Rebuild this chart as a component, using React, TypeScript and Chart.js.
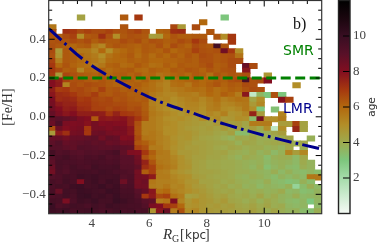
import React, { useEffect, useRef } from "react";
import { Chart, registerables } from "chart.js";

Chart.register(...registerables);

const _ = null;

const xMin = 2.5;
const xMax = 12;
const yMin = -0.5;
const yMax = 0.6;
const binW = 0.25;
const binH = 0.025;
const gridTop = 0.525;

const ages: (number | null)[][] = [
  [_,_,_,_,4.3,_,_,_,_,_,6.3,_,7.0,_,_,_,_,_,_,_,_,_,_,_,3.0],
  [_,_,_,_,_,_,_,_,_,_,_,_,_,_,_,_,_,_,_,_,_,6],
  [5.6,_,_,_,_,_,_,_,_,_,6.4,_,_,_,_,_,_,6.7,4.6,_,6.6],
  [6.5,_,7.2,7,6.6,6.8,6.6,6.6,6.8,6.5,6.4,6.6,6.8,6.4,_,6.1,6.2,7.2,7.3,_,_,_,6.4],
  [6.4,6.2,6.6,6.8,5,6.3,6.4,7.2,6.5,5,6.3,6.5,6.4,6.3,4.4,4.6,6,6.4,6.2,6.2,6.3,6.3,_,6.4,5,7],
  [6.4,6.5,6.4,6.6,6.4,6.6,6.2,6.5,6.3,6.3,6.6,6.4,6.6,6.2,6.5,6.4,6.2,6.3,6.6,6.4,7,6.6,_,_,_,7],
  [6.5,6.3,6.2,6.0,6.2,6.3,5.6,5.2,6.2,6.4,6.3,6.2,6.1,6.3,6.2,6.5,6.1,6.6,6.3,6.1,6.6,6.4,6.3,9.6,6.4],
  [6.6,4.6,6.3,6,5.6,5.6,5.2,6,5,5.8,6,6.2,6,6.3,6.2,6.1,6.4,6,6.2,6.3,6.8,6.5,6.4,6.5,8.4,7,5],
  [6.5,4.8,6.3,6.2,6,5.7,5.5,5,5.7,6,6.1,6.3,5.9,6.2,5.9,6.2,6,6.3,6.1,6.4,6.2,6.6,6.5,6.3,6.4,6.5,5.7],
  [6.8,5.4,6.3,6.2,6,5.8,5.6,5.3,5.9,6,6,6.2,6.1,6.2,6,6,6.1,6.1,6.2,6.3,6.2,6.5,6.5,6.3,6.4,6.6,6.6],
  [7,6,6.4,6.1,5.9,5.8,5.4,5.6,6.1,6.2,5.9,6,6.3,6.1,5.8,5.9,6.2,6,6.3,6.2,6.2,6.4,6.6,6.2,6.3,6.6,_,8.6,6.6],
  [7,6.6,6.2,6.3,5.2,6,5.9,6.2,5.9,6.1,6.2,6.3,6.0,5.9,6.2,6.1,6,6.3,6.2,6.4,6.3,6.1,6.4,6.2,6.4,6.5,_,7.8],
  [6.9,4.6,6.7,6.5,6.3,6.2,6.1,6.3,6,6.2,6.3,6.1,6.3,6,6.1,5.7,5.9,6.1,6.2,6,6.3,6.2,5.8,6.4,6.2,6.4,6.3,6.5,_,_,4.7],
  [8,7.6,6.8,6.5,6.5,6.3,6.2,6.4,6.2,6.1,6.3,6.2,6.0,6.2,5.9,5.7,5.4,5.9,6,6.1,6.2,6,6.1,6.3,6.2,6.5,6.6,9.4,6.5,6.6,8],
  [8,7.7,5.3,6.6,6.4,6.6,6.5,6.4,6.2,6.1,6,6.1,6.2,6,5.8,5.5,5.3,5.8,5.9,5.6,6.1,6,6.2,6.4,6.1,6.3,6.2,6.6,6.5,_,_,_,_,_,5],
  [7.6,6.9,7,6.6,6.7,6.5,6.3,6.8,6.3,6.4,6.2,6.3,6.1,5.9,5.8,5.6,5.3,5.5,5.6,5.8,5.9,5.8,6.1,5.8,6,6.2,6.1,6.4,6.6,6.5],
  [7.8,7.3,7.2,7,6.7,6.6,6.9,6.4,6.3,6.5,6.4,6.2,6.2,6,5.6,5.4,5.2,5.2,5.5,5.5,5.4,5.7,6,5.8,6.2,6,5.5,7.8,1.3,3.6,3,6.5,3],
  [8.2,7.3,7.4,7.3,6.9,7,6.7,6.6,6.7,6.4,6.5,6.3,6.2,6.3,5.4,5.2,5.3,5,5.2,5.4,5.5,5.2,5.5,5.8,5.4,5.6,5.8,5.7,4.2,5,_,_,7.9,6.8],
  [8.3,7.7,7.5,7.5,7.1,7.1,6.8,6.7,6.7,6.6,6.6,6.4,6.4,6.2,5.4,5.2,5.1,4.9,5.1,5.3,5.3,5.1,5.4,5.6,5.2,5.3,5.5,5.6,4.6,5.2],
  [8.4,8,7.6,7.7,7.3,7.2,6.8,6.8,6.6,6.8,6.7,6.5,6.6,6.2,5.5,5.2,5,4.8,5,5.2,5.2,5,5.4,5.5,5.1,5,5.2,5.6,5,3.0,_,3.2],
  [8.7,8.2,7.8,8,7.6,7.6,7.7,7.6,7.0,7.5,7,6.9,6.7,6.3,5.6,5.4,5.2,5,4.8,5,5,4.9,5.2,5,5.4,4.8,4.9,5.2,7.5,4.5,_,_,5.3],
  [8.8,9,8.8,8.6,8.2,8,6.3,7.8,7.7,7.8,7.9,7.5,7,6.4,5.5,5.3,5,4.9,5,4.8,4.6,5,4.8,5.1,4.6,4.7,5,4.9,3.4,8.3,5,5,5.5],
  [8.6,9.3,8.2,8.1,8.2,7.9,8.3,8,8.1,8,8,7.5,6.5,5.5,5.5,5.3,5.1,5,4.8,4.7,4.6,4.5,4.4,4.6,4.8,4.4,4.5,4.2,5.5,5.5,5.5,_,4.5,4.5,6.8,4.3],
  [6.5,8.5,8,8.2,8.3,7,8.3,8.3,8.1,8.3,8.2,7.8,6.4,5.5,5.5,5.3,5,5,4.8,4.6,4.5,4.4,4.5,4.3,4.6,4.2,4.4,4.1,4.5,4,5,1.4,5,_,7.4,4.3],
  [4.5,7.7,7.2,8.3,8.4,7,8.5,8.6,8.3,8.2,8.2,7.8,6.4,5.5,5.6,5.4,5,5,4.8,4.8,4.6,4.4,4.4,4.2,4.1,4.4,3.4,3.4,4,3.8,3.9,4.2,4.5],
  [8.7,8.7,8.4,8.7,8.7,8.8,8.9,8.4,8.8,8.7,8,8.1,6.6,5.7,5.6,5.4,5.2,4.9,4.7,4.8,4.5,4.3,4.2,4.1,3.9,3.7,4.1,4.0,4.2,3.9,3.9,3.9,4.0,4.2,_,_,3.8],
  [8.9,9.2,8.7,8.8,8.9,9,8.8,8.9,8.6,8.7,8.4,8.4,6.4,6.2,5.8,5.4,5.2,5,4.7,4.6,4.4,4.4,4.3,4.2,4.2,4.1,3.8,4.2,4.1,3.9,4,4.1,4.1,4.2,3.9,4.1],
  [9.1,9.1,8.9,8.8,9.2,9.1,9,8.9,8.9,9,8.9,8.8,6.8,6.5,5.5,5.5,5.2,4.9,4.7,4.5,4.5,4.4,4.3,4.1,4,4.2,4.1,3.9,4,4,3.8,3.9,3.7,4.1,_,3.9],
  [9.6,9.2,9.3,9.1,9,9.2,9.1,9.2,9.3,9.5,8.8,8.1,8,7,6.2,5.6,5.5,5,4.6,4.6,4.5,4.4,4.3,4.2,4.3,4,3.9,3.8,4,3.7,3.9,3.5,3.8,5.3,4.5,5.2],
  [9.1,9.4,9.6,9.3,9.2,9.4,9.3,9.5,9.2,9.3,9,9,8.4,6.5,6,5.5,5.5,5.2,4.9,4.6,4.4,4.4,4.2,4.2,4.1,3.9,3.7,4,3.9,3.8,3.4,3.8,3.9,3.9,3.5,4.1],
  [8.9,9.5,9.4,9.4,9.3,9.4,9.5,9.4,9.3,9.4,9,9,8.5,7.5,6.4,5.6,5.5,5.3,4.9,4.7,4.4,4.3,4.1,4.1,4,4,3.9,3.8,3.7,3.8,3.5,3.7,3.8,3.7,3.5,4,3.7],
  [8.6,9.5,9.3,9.6,9.4,9.3,9.7,9.5,9.5,9.6,9.1,9.1,8.8,7.2,6.8,5.8,5.6,5.4,4.9,4.8,4.4,4.3,4.1,4.1,4,4,3.9,3.8,3.6,3.9,3.3,3.6,3.8,3.5,3.4,3.9,3.7],
  [8.4,9.4,9.2,9.5,9.6,9.6,9.5,9.7,9.6,9.4,9.3,9.2,8.3,6.2,6.8,5.5,5.4,5,4.8,4.6,4.4,4.3,4.3,4.2,4.1,4,3.9,3.9,3.8,3.7,3.6,3.9,3.5,3.8,3.5,3.4,3.6,3.4],
  [9.2,9.3,9.6,9.5,9.8,9.7,9.8,9.6,9.6,9.7,9.2,9.3,8.4,8.3,7.7,5.5,5.5,5.2,5,4.9,4.5,4.4,4.2,4.1,4.1,4,3.8,3.7,3.9,3.8,3.6,3.4,3.7,3.5,3.7,3.5,5.6,5.6],
  [9.5,9.3,9.7,9.5,8,9.6,9.8,9.5,9.8,9.7,8.5,9.3,8.3,8.5,5.6,5.4,5.4,5.3,5.1,4.8,4.7,4.3,4.3,4.2,4,4.1,3.9,3.8,3.7,3.6,3.9,3.5,3.4,3.2,3.3,3.8,3.4],
  [9.4,9.6,9.5,9.8,9.9,9.6,9.7,9.9,9.6,9.8,9.3,9.4,8.4,8.4,5.5,5.4,5.6,5.2,5.3,4.9,4.6,4.5,4.3,4.1,4.2,3.9,4,3.7,3.8,3.5,3.7,3.6,3.5,3.8,2.4,3.4,3.9,3.5],
  [9.5,8.6,9.7,9.6,9.9,9.8,9.7,9.6,9.9,9.8,9.5,9.5,9,8.7,7.8,5.8,6,5.4,5.2,5,4.8,4.6,4.4,4.2,4.1,4.2,3.9,4,3.8,3.9,3.7,3.8,4,3.5,3.6,3.3,3.4,3.7],
  [9.3,9.4,9.7,9.5,9.9,10,9.7,9.8,9.6,9.9,9.6,9.6,9.2,7,7.7,6.6,6.8,5.8,5.5,4.4,4.5,4.7,4.5,4.3,4.4,4.1,4,4.1,3.9,4.2,3.8,4,3.7,3.6,3.9,3.5,3.6,3.7],
  [9.6,9.5,8.2,9.4,9.8,9.7,9.9,9.6,9.6,10,9.8,9.6,9.4,9,8.8,5.5,5.7,8.1,5.3,4.7,5,4.7,4.6,4.4,4.6,4.2,4.1,3.9,4.1,3.8,4.1,3.9,3.7,3.5,3.4,3.6,3,3.6],
  [9.9,9.3,9.5,9.7,9.6,9.4,9.7,9.5,9.8,9.7,9.6,9.5,9.5,9.2,8.2,8,7,6.8,6,4.8,4.9,4.7,4.5,4.6,4.4,4.5,4.2,4.1,4.3,4,4.2,3.9,4,3.6,3.5,3.6,_,3.5],
  [9.8,9.7,9.8,9.5,9.6,9.7,9.6,9.4,9.5,9.7,9.5,9.6,9.4,9.5,4.8,7.8,8.6,5.5,6.5,5,5.2,4.7,4.6,4.5,4.5,4.4,4.3,4.2,4.4,4.1,3.9,4.2,3.9,3.7,3.8,3.4,3.3,3.9],
];

const smrX = [2.5, 12];
const smrY = [0.2, 0.2];
const lmrX = [2.5, 3.87, 5.43, 6.48, 7.52, 8.63, 10.37, 11.87, 12];
const lmrY = [0.455, 0.277, 0.143, 0.071, 0.019, -0.038, -0.11, -0.162, -0.166];

const xTickValues = [4, 6, 8, 10];
const xMinorTicks = [3, 3.5, 4.5, 5, 5.5, 6.5, 7, 7.5, 8.5, 9, 9.5, 10.5, 11, 11.5];
const yTickValues = [-0.4, -0.2, 0, 0.2, 0.4];
const yMinorTicks = [-0.45, -0.35, -0.3, -0.25, -0.15, -0.1, -0.05, 0.05, 0.1, 0.15, 0.25, 0.3, 0.35, 0.45, 0.5, 0.55];
const cbarTicks = [2, 4, 6, 8, 10];
const cbarRange = [0, 12];

const cmapValues = [0, 1, 2, 3, 4, 5, 6, 7, 8, 9, 10, 11, 12];
const cmapColors = [
  [245, 250, 245],
  [205, 235, 208],
  [165, 220, 170],
  [125, 198, 125],
  [158, 170, 78],
  [178, 142, 40],
  [178, 104, 14],
  [165, 55, 15],
  [130, 14, 32],
  [88, 16, 40],
  [56, 14, 34],
  [26, 6, 14],
  [0, 0, 0],
];

function ageColor(v: number) {
  const top = cmapValues.length - 1;
  const p = Math.max(0, Math.min(cmapValues[top] - 1e-6, v));
  const i = Math.floor(p);
  const f = p - i;
  const a = cmapColors[i];
  const b = cmapColors[Math.min(top, i + 1)];
  return `rgb(${a.map((c, j) => Math.round(c + (b[j] - c) * f)).join(",")})`;
}

const cells: { x: number; y: [number, number]; age: number }[] = [];
ages.forEach((row, k) => {
  row.forEach((age, c) => {
    if (age === null) return;
    const hi = gridTop - k * binH;
    cells.push({ x: xMin + binW * (c + 0.5), y: [hi - binH, hi], age });
  });
});

const serif = "'Liberation Serif', serif";
const sans = "'DejaVu Sans', sans-serif";
const labelGray = "#444";

const noPad = (s: any) => {
  s.paddingTop = 0;
  s.paddingBottom = 0;
  s.paddingLeft = 0;
  s.paddingRight = 0;
};

const framePlugin = {
  id: "frame",
  afterDatasetsDraw(chart: any) {
    const { ctx, chartArea: a, scales } = chart;
    const x = scales.x;
    const y = scales.y;
    ctx.save();
    ctx.strokeStyle = "#000";
    ctx.lineWidth = 1;
    const tick = (pos: number, len: number, vertical: boolean) => {
      ctx.beginPath();
      if (vertical) {
        ctx.moveTo(pos, a.bottom);
        ctx.lineTo(pos, a.bottom - len);
        ctx.moveTo(pos, a.top);
        ctx.lineTo(pos, a.top + len);
      } else {
        ctx.moveTo(a.left, pos);
        ctx.lineTo(a.left + len, pos);
        ctx.moveTo(a.right, pos);
        ctx.lineTo(a.right - len, pos);
      }
      ctx.stroke();
    };
    xTickValues.forEach((v) => tick(x.getPixelForValue(v), 6, true));
    xMinorTicks.forEach((v) => tick(x.getPixelForValue(v), 3.5, true));
    yTickValues.forEach((v) => tick(y.getPixelForValue(v), 6, false));
    yMinorTicks.forEach((v) => tick(y.getPixelForValue(v), 3.5, false));
    ctx.strokeStyle = "#333";
    ctx.lineWidth = 1.2;
    ctx.strokeRect(a.left, a.top, a.right - a.left, a.bottom - a.top);

    ctx.textBaseline = "alphabetic";
    ctx.textAlign = "left";
    ctx.fillStyle = "#008000";
    ctx.font = `14px ${sans}`;
    ctx.fillText("SMR", 283, 55);
    ctx.fillStyle = "#00008b";
    ctx.fillText("LMR", 283, 113);
    ctx.fillStyle = "#111";
    ctx.font = `16px ${serif}`;
    ctx.fillText("b)", 293, 29);

    ctx.fillStyle = "#333";
    ctx.font = `italic 15px ${serif}`;
    ctx.fillText("R", 163, 239);
    ctx.font = `10px ${serif}`;
    ctx.fillText("G", 172, 242);
    ctx.font = `14px ${serif}`;
    ctx.fillText("[", 180, 239);
    ctx.font = `12px ${sans}`;
    ctx.fillText("kpc", 185, 239);
    ctx.font = `14px ${serif}`;
    ctx.fillText("]", 205, 239);
    ctx.restore();
  },
};

const cbarPlugin = {
  id: "cbarFrame",
  afterDatasetsDraw(chart: any) {
    const { ctx, chartArea: a, scales } = chart;
    ctx.save();
    ctx.strokeStyle = "#000";
    ctx.lineWidth = 1;
    cbarTicks.forEach((v) => {
      const p = scales.y.getPixelForValue(v);
      ctx.beginPath();
      ctx.moveTo(a.right, p);
      ctx.lineTo(a.right - 7, p);
      ctx.stroke();
    });
    ctx.strokeStyle = "#222";
    ctx.lineWidth = 1.4;
    ctx.strokeRect(a.left, a.top, a.right - a.left, a.bottom - a.top);
    ctx.translate(42, 107);
    ctx.rotate(-Math.PI / 2);
    ctx.textAlign = "center";
    ctx.textBaseline = "middle";
    ctx.fillStyle = "#333";
    ctx.font = `10.5px ${sans}`;
    ctx.fillText("age", 0, 0);
    ctx.restore();
  },
};

export default function App() {
  const mainRef = useRef<HTMLCanvasElement>(null);
  const barRef = useRef<HTMLCanvasElement>(null);

  useEffect(() => {
    const main = new Chart(mainRef.current as HTMLCanvasElement, {
      type: "bar",
      data: {
        datasets: [
          {
            type: "line",
            label: "SMR",
            data: smrX.map((x, i) => ({ x, y: smrY[i] })),
            borderColor: "#008000",
            borderWidth: 3,
            borderDash: [10, 4.5],
            pointRadius: 0,
            order: 1,
          },
          {
            type: "line",
            label: "LMR",
            data: lmrX.map((x, i) => ({ x, y: lmrY[i] })),
            borderColor: "#00008b",
            borderWidth: 3,
            borderDash: [17, 4.3, 2.7, 4.3],
            tension: 0.35,
            pointRadius: 0,
            order: 0,
          },
          {
            type: "bar",
            label: "age",
            data: cells as any,
            backgroundColor: (c: any) => ageColor(c.raw ? c.raw.age : 0),
            borderWidth: 0,
            inflateAmount: 0.6,
            barPercentage: 1,
            categoryPercentage: 1,
            order: 2,
          },
        ],
      },
      options: {
        animation: false,
        responsive: false,
        events: [],
        layout: { padding: { top: 0.5, right: 68.3, left: 0, bottom: 0 } },
        plugins: { legend: { display: false }, tooltip: { enabled: false } },
        scales: {
          x: {
            type: "linear",
            offset: false,
            min: xMin,
            max: xMax,
            grid: { display: false, drawTicks: false, offset: false },
            border: { display: false },
            afterBuildTicks: (s: any) => {
              s.ticks = xTickValues.map((value) => ({ value }));
            },
            afterFit: (s: any) => {
              s.height = 30.3;
              noPad(s);
            },
            ticks: {
              padding: 2,
              color: labelGray,
              maxRotation: 0,
              autoSkip: false,
              font: { family: serif, size: 13 },
              callback: (v: any) => String(v),
            },
          },
          y: {
            type: "linear",
            min: yMin,
            max: yMax,
            grid: { display: false, drawTicks: false },
            border: { display: false },
            afterBuildTicks: (s: any) => {
              s.ticks = yTickValues.map((value) => ({ value }));
            },
            afterFit: (s: any) => {
              s.width = 48.7;
              noPad(s);
            },
            title: {
              display: true,
              text: "[Fe/H]",
              color: "#333",
              padding: { top: 0, bottom: 0 },
              font: { family: serif, size: 14 },
            },
            ticks: {
              padding: 3,
              color: labelGray,
              autoSkip: false,
              font: { family: serif, size: 13 },
              callback: (v: any) => (v < 0 ? "\u2212" + Math.abs(v).toFixed(1) : Number(v).toFixed(1)),
            },
          },
        },
      } as any,
      plugins: [framePlugin],
    } as any);

    const bar = new Chart(barRef.current as HTMLCanvasElement, {
      type: "bar",
      data: {
        labels: ["age"],
        datasets: [
          {
            data: [cbarRange as any],
            backgroundColor: (c: any) => {
              const { chart } = c;
              const area = chart.chartArea;
              if (!area) return "#000";
              const g = chart.ctx.createLinearGradient(0, area.bottom, 0, area.top);
              cmapValues.forEach((v) => g.addColorStop(v / cbarRange[1], ageColor(v)));
              return g;
            },
            borderWidth: 0,
            barPercentage: 1,
            categoryPercentage: 1,
          },
        ],
      },
      options: {
        animation: false,
        responsive: false,
        events: [],
        layout: { padding: { top: 0.5, bottom: 30.5, left: 8.5, right: 0 } },
        plugins: { legend: { display: false }, tooltip: { enabled: false } },
        scales: {
          x: { display: false },
          y: {
            position: "right",
            min: cbarRange[0],
            max: cbarRange[1],
            grid: { display: false, drawTicks: false },
            border: { display: false },
            afterBuildTicks: (s: any) => {
              s.ticks = cbarTicks.map((value) => ({ value }));
            },
            afterFit: (s: any) => {
              s.width = 40;
              noPad(s);
            },
            ticks: {
              padding: 3,
              color: labelGray,
              autoSkip: false,
              font: { family: serif, size: 13 },
              callback: (v: any) => String(v),
            },
          },
        },
      } as any,
      plugins: [cbarPlugin],
    } as any);

    return () => {
      main.destroy();
      bar.destroy();
    };
  }, []);

  const canvasStyle = { position: "absolute" as const, top: 0, height: 244, filter: "blur(0.35px)" };
  return (
    <div style={{ position: "absolute", left: 0, top: 0, width: 390, height: 244, background: "#fff" }}>
      <canvas ref={mainRef} width={390} height={244} style={{ ...canvasStyle, left: 0, width: 390 }} />
      <canvas ref={barRef} width={60} height={244} style={{ ...canvasStyle, left: 330, width: 60 }} />
    </div>
  );
}
